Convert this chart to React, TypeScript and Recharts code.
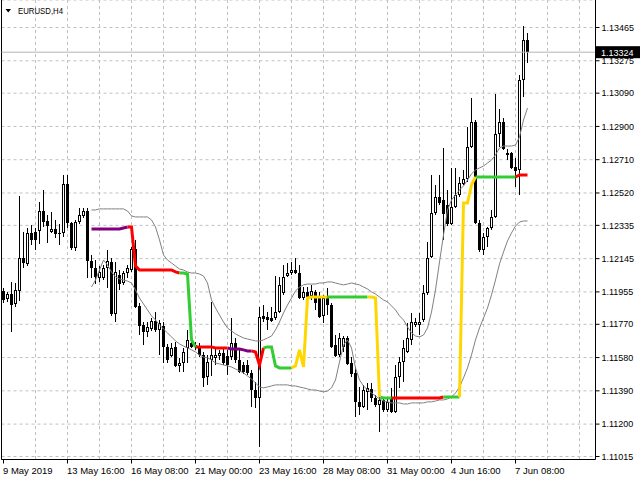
import React from "react";
import { ComposedChart, Bar, Line, XAxis, YAxis, CartesianGrid, ReferenceLine } from "recharts";

// EURUSD H4 candles, 9 May 2019 00:00 onwards
const opens = [
  1.1196, 1.11915, 1.11943, 1.11886, 1.1196, 1.12149, 1.12115, 1.12292, 1.12297, 1.12303,
  1.12417, 1.1236, 1.12297, 1.12314, 1.12292, 1.12292, 1.12571, 1.12349, 1.12206, 1.12354,
  1.12389, 1.12417, 1.12132, 1.12092, 1.12035, 1.12035, 1.12092, 1.12126, 1.11829, 1.12052,
  1.12006, 1.12063, 1.1208, 1.122, 1.11875, 1.11766, 1.11726, 1.11743, 1.11789, 1.11738,
  1.1176, 1.11641, 1.11589, 1.11641, 1.11532, 1.11549, 1.11635, 1.11664, 1.11641, 1.11641,
  1.11595, 1.11469, 1.11566, 1.11578, 1.11589, 1.11606, 1.11589, 1.11583, 1.11664, 1.11566,
  1.11538, 1.11538, 1.11492, 1.11395, 1.11349, 1.11818, 1.11812, 1.11806, 1.11806, 1.1184,
  1.11949, 1.12046, 1.12063, 1.1208, 1.12063, 1.1192, 1.11955, 1.11932, 1.11955, 1.11926,
  1.11818, 1.11926, 1.1188, 1.11652, 1.11595, 1.11641, 1.11692, 1.11549, 1.11492, 1.11327,
  1.11298, 1.11384, 1.11401, 1.11349, 1.11309, 1.11338, 1.11281, 1.11349, 1.1127, 1.11469,
  1.11555, 1.11612, 1.11681, 1.11766, 1.11766, 1.11795, 1.11949, 1.12155, 1.12406, 1.12497,
  1.1248, 1.12451, 1.12343, 1.1244, 1.12509, 1.12571, 1.126, 1.12783, 1.12925, 1.12349,
  1.12194, 1.12269, 1.1232, 1.12383, 1.12857, 1.12925, 1.12748, 1.12748, 1.12668, 1.12651,
  1.13165, 1.13394,
];
const highs = [
  1.11978, 1.11955, 1.12012, 1.12006, 1.12503, 1.12297, 1.1232, 1.12337, 1.1232, 1.12469,
  1.12537, 1.12394, 1.12411, 1.12366, 1.12343, 1.12623, 1.12623, 1.12354, 1.12366, 1.12434,
  1.12434, 1.12434, 1.12166, 1.12137, 1.12103, 1.12109, 1.12194, 1.12149, 1.12126, 1.1208,
  1.12075, 1.12109, 1.12212, 1.12252, 1.11892, 1.11783, 1.11783, 1.11806, 1.1184, 1.11795,
  1.11783, 1.11658, 1.11664, 1.11669, 1.11578, 1.11635, 1.11738, 1.11726, 1.11669, 1.11664,
  1.11612, 1.11595, 1.11898, 1.11641, 1.11624, 1.11635, 1.11624, 1.11806, 1.11692, 1.11624,
  1.11555, 1.11566, 1.11509, 1.11441, 1.11869, 1.1188, 1.1184, 1.11869, 1.12046, 1.1204,
  1.12109, 1.1212, 1.12126, 1.12149, 1.12109, 1.11983, 1.11983, 1.11995, 1.11966, 1.11955,
  1.11938, 1.11978, 1.11892, 1.11709, 1.11721, 1.11703, 1.11703, 1.11583, 1.11526, 1.11412,
  1.11424, 1.11435, 1.11435, 1.11366, 1.11355, 1.11355, 1.11355, 1.11407, 1.11538, 1.11583,
  1.11681, 1.11778, 1.11835, 1.11806, 1.11835, 1.11995, 1.1224, 1.12623, 1.12566, 1.12623,
  1.12777, 1.12537, 1.12663, 1.12663, 1.12611, 1.12651, 1.12897, 1.13062, 1.12937, 1.12366,
  1.12292, 1.12326, 1.12423, 1.13085, 1.12999, 1.12948, 1.12771, 1.12754, 1.1272, 1.13194,
  1.13474, 1.13434,
];
const lows = [
  1.11892, 1.11898, 1.11726, 1.11869, 1.11903, 1.12092, 1.12103, 1.12223, 1.12194, 1.12229,
  1.12326, 1.12234, 1.12292, 1.12263, 1.12223, 1.12269, 1.1232, 1.12194, 1.12189, 1.12343,
  1.12377, 1.12035, 1.12035, 1.12, 1.12012, 1.12023, 1.11978, 1.11818, 1.11783, 1.11966,
  1.11995, 1.12035, 1.12069, 1.11863, 1.11709, 1.11652, 1.11698, 1.11732, 1.11726, 1.11595,
  1.11549, 1.11549, 1.11583, 1.11526, 1.11498, 1.11498, 1.11549, 1.11635, 1.11624, 1.11583,
  1.11412, 1.11424, 1.11475, 1.11538, 1.11566, 1.11538, 1.11481, 1.11566, 1.11549, 1.11492,
  1.11486, 1.11481, 1.11298, 1.11292, 1.1107, 1.11783, 1.11738, 1.11783, 1.11795, 1.11835,
  1.11938, 1.1204, 1.12052, 1.12057, 1.11915, 1.11909, 1.11915, 1.11909, 1.11852, 1.11806,
  1.11778, 1.11823, 1.11635, 1.11583, 1.11583, 1.11612, 1.11538, 1.11469, 1.11241, 1.11252,
  1.11292, 1.11281, 1.11327, 1.11298, 1.11155, 1.1127, 1.1127, 1.11264, 1.11264, 1.11407,
  1.11441, 1.11606, 1.11652, 1.11755, 1.11709, 1.11783, 1.11938, 1.12149, 1.12394, 1.12451,
  1.12252, 1.12331, 1.12337, 1.12434, 1.12497, 1.12566, 1.12583, 1.12777, 1.12343, 1.12183,
  1.12166, 1.12212, 1.12309, 1.12377, 1.12783, 1.12765, 1.12708, 1.12657, 1.12554, 1.12509,
  1.13068, 1.13262,
];
const closes = [
  1.11909, 1.11943, 1.1188, 1.11966, 1.12149, 1.1212, 1.12292, 1.12252, 1.12252, 1.12417,
  1.12354, 1.12331, 1.12314, 1.12286, 1.12286, 1.12571, 1.12349, 1.12206, 1.12354, 1.12394,
  1.12417, 1.12132, 1.12092, 1.1204, 1.12069, 1.12092, 1.12132, 1.11829, 1.12069, 1.12,
  1.12063, 1.12092, 1.122, 1.11869, 1.1176, 1.11726, 1.11755, 1.11789, 1.11738, 1.11778,
  1.11641, 1.11566, 1.11635, 1.11532, 1.11549, 1.11612, 1.11681, 1.11641, 1.11652, 1.11595,
  1.11464, 1.11555, 1.11595, 1.11595, 1.11606, 1.11549, 1.11538, 1.11664, 1.11566, 1.11498,
  1.11498, 1.11492, 1.11395, 1.11349, 1.11812, 1.118, 1.11795, 1.11789, 1.1184, 1.11995,
  1.1204, 1.12063, 1.1208, 1.12063, 1.1192, 1.11955, 1.11926, 1.1196, 1.11892, 1.11812,
  1.1192, 1.1188, 1.11641, 1.11589, 1.11692, 1.11692, 1.11544, 1.11486, 1.11327, 1.11298,
  1.11395, 1.11407, 1.11349, 1.11309, 1.11338, 1.11281, 1.11327, 1.1127, 1.11469, 1.11555,
  1.11635, 1.11692, 1.11783, 1.11783, 1.11783, 1.11949, 1.12149, 1.12406, 1.12497, 1.12463,
  1.124, 1.12343, 1.1244, 1.12509, 1.12577, 1.126, 1.12783, 1.12925, 1.12349, 1.12194,
  1.12269, 1.1232, 1.12383, 1.12857, 1.12925, 1.12771, 1.12737, 1.12663, 1.12646, 1.13165,
  1.13394, 1.13324,
];

// bands and the coloured level line begin at bar 22
const bandStart = 22;
const upperBand = [
  1.12423, 1.12423, 1.12429, 1.12429, 1.12429, 1.12429, 1.12429, 1.12429, 1.12429, 1.12417,
  1.12389, 1.12383, 1.12383, 1.12383, 1.12383, 1.12366, 1.12326, 1.12252, 1.12166, 1.12137,
  1.1212, 1.12103, 1.12086, 1.1208, 1.12069, 1.12063, 1.12063, 1.12057, 1.12046, 1.12006,
  1.11909, 1.11863, 1.11823, 1.11783, 1.11749, 1.11732, 1.11715, 1.11703, 1.11692, 1.11686,
  1.11681, 1.11675, 1.11675, 1.11681, 1.11692, 1.11703, 1.11738, 1.11783, 1.11835, 1.1188,
  1.1192, 1.1196, 1.11983, 1.11995, 1.12, 1.12, 1.12, 1.12006, 1.12006, 1.12012,
  1.12012, 1.12006, 1.12, 1.11995, 1.12, 1.12006, 1.12, 1.11995, 1.11983, 1.11972,
  1.11955, 1.11943, 1.11926, 1.11909, 1.11898, 1.11875, 1.11852, 1.11818, 1.11795, 1.11755,
  1.11721, 1.11703, 1.11698, 1.11709, 1.11749, 1.1184, 1.11966, 1.12126, 1.1228, 1.12423,
  1.1248, 1.12509, 1.12537, 1.1256, 1.12594, 1.12629, 1.12651, 1.12663, 1.12674, 1.12691,
  1.12708, 1.12737, 1.12777, 1.12788, 1.12788, 1.12788, 1.12794, 1.1284, 1.12937, 1.13005,
];
const lowerBand = [
  1.11983, 1.12023, 1.1208, 1.12137, 1.12109, 1.12069, 1.1204, 1.12029, 1.12023, 1.12017,
  1.12006, 1.11966, 1.1192, 1.11886, 1.11852, 1.11818, 1.11795, 1.11766, 1.11743, 1.11721,
  1.11698, 1.11675, 1.11658, 1.11646, 1.11635, 1.11624, 1.11612, 1.11595, 1.11583, 1.11578,
  1.11566, 1.11549, 1.11544, 1.11538, 1.11532, 1.11526, 1.11515, 1.11504, 1.11492, 1.11475,
  1.11458, 1.11435, 1.11412, 1.11407, 1.11412, 1.11418, 1.11424, 1.11424, 1.11424, 1.11424,
  1.11418, 1.11418, 1.11412, 1.11407, 1.11401, 1.11395, 1.11395, 1.11389, 1.11384, 1.11389,
  1.11407, 1.11452, 1.11555, 1.11652, 1.11681, 1.11635, 1.11521, 1.11452, 1.11418, 1.11395,
  1.11378, 1.11361, 1.11344, 1.11332, 1.11327, 1.11321, 1.11321, 1.11321, 1.11315, 1.11315,
  1.11321, 1.11321, 1.11321, 1.11321, 1.11327, 1.11327, 1.11332, 1.11338, 1.11338, 1.11344,
  1.11355, 1.11378, 1.11412, 1.11464, 1.11521, 1.11595, 1.11681, 1.11749, 1.11806, 1.11863,
  1.11938, 1.12023, 1.12115, 1.12183, 1.12246, 1.12292, 1.12331, 1.12354, 1.1236, 1.1236,
];
const trendLevel = [
  1.12314, 1.12314, 1.12314, 1.12314, 1.12314, 1.12314, 1.12314, 1.12314, 1.1232, 1.12326,
  1.12326, 1.12103, 1.1208, 1.1208, 1.1208, 1.1208, 1.1208, 1.1208, 1.1208, 1.1208,
  1.1208, 1.12069, 1.12063, 1.12063, 1.12057, 1.11681, 1.11641, 1.11641, 1.11641, 1.11641,
  1.11641, 1.11635, 1.11635, 1.11635, 1.11635, 1.11629, 1.11629, 1.11629, 1.11624, 1.11618,
  1.11618, 1.11612, 1.11538, 1.11635, 1.11641, 1.11641, 1.11532, 1.11521, 1.11521, 1.11521,
  1.11521, 1.11532, 1.11624, 1.11526, 1.1192, 1.11926, 1.11926, 1.11926, 1.11926, 1.11926,
  1.11926, 1.11926, 1.11926, 1.11926, 1.11926, 1.11926, 1.11926, 1.11926, 1.11926, 1.11926,
  1.11926, 1.1192, 1.11355, 1.11349, 1.11349, 1.11349, 1.11349, 1.11349, 1.11349, 1.11349,
  1.11349, 1.11349, 1.11349, 1.11349, 1.11349, 1.11349, 1.11349, 1.11349, 1.11355, 1.11355,
  1.11355, 1.11355, 1.11355, 1.12463, 1.12463, 1.12566, 1.12611, 1.12611, 1.12611, 1.12611,
  1.12611, 1.12611, 1.12611, 1.12611, 1.12611, 1.12611, 1.12611, 1.12623, 1.12623, 1.12623,
];
// colour of each segment of the level line, as runs of bars
const trendRuns: [string, number][] = [
  ["purple", 10], ["red", 13], ["green", 4], ["red", 8], ["purple", 6], ["red", 3],
  ["green", 7], ["gold", 9], ["green", 10], ["gold", 3], ["green", 3], ["red", 13],
  ["green", 4], ["gold", 4], ["green", 10], ["red", 3],
];

const tickBars = [0, 16, 32, 48, 64, 80, 96, 112, 128];
const tickLabels = [
  "9 May 2019", "13 May 16:00", "16 May 08:00", "21 May 00:00", "23 May 16:00",
  "28 May 08:00", "31 May 00:00", "4 Jun 16:00", "7 Jun 08:00",
];
const gridBars = [8, 16, 24, 32, 40, 48, 56, 64, 72, 80, 88, 96, 104, 112, 120, 128, 136, 144];
const priceTicks = [
  1.11015, 1.112, 1.1139, 1.1158, 1.1177, 1.11955, 1.12145, 1.12335, 1.1252, 1.1271,
  1.129, 1.1309, 1.13275, 1.13465,
];

const lineColors: Record<string, string> = {
  purple: "#800080",
  red: "#ff0000",
  green: "#32cd32",
  gold: "#ffd700",
};

const segColor = trendRuns.flatMap(([c, n]) => Array(n).fill(c));

const rows = opens.map((open, i) => {
  const k = i - bandStart;
  const row: any = {
    i,
    open,
    high: highs[i],
    low: lows[i],
    close: closes[i],
    range: [lows[i], highs[i]],
    upper: k >= 0 ? upperBand[k] : null,
    lower: k >= 0 ? lowerBand[k] : null,
  };
  Object.keys(lineColors).forEach((c) => {
    row[c] = k >= 0 && (segColor[k] === c || segColor[k + 1] === c) ? trendLevel[k] : null;
  });
  return row;
});

const lastClose = closes[closes.length - 1];
const font = "'Liberation Sans', Arial, sans-serif";

const Candle = (props: any) => {
  const { x, y, width, height, payload } = props;
  if (x == null || y == null || !payload) return null;
  const { open, close, high, low } = payload;
  const top = Math.min(y, y + height);
  const h = Math.abs(height);
  const cx = Math.floor(x + width / 2) + 0.5;
  const py = (v: number) => top + ((high - v) / (high - low || 1)) * h;
  const bTop = Math.round(py(Math.max(open, close)));
  const bBot = Math.round(py(Math.min(open, close)));
  const up = close >= open;
  return (
    <g>
      <line x1={cx} x2={cx} y1={Math.round(top)} y2={Math.round(top + h)} stroke="#000" />
      {up && bBot - bTop >= 2 ? (
        <rect x={cx - 1} y={bTop + 0.5} width={2} height={bBot - bTop - 1} fill="#fff" stroke="#000" />
      ) : (
        <rect x={cx - 1.5} y={bTop} width={3} height={Math.max(bBot - bTop, 1)} fill="#000" />
      )}
    </g>
  );
};

const TimeTick = (props: any) => {
  const { x, y, payload } = props;
  const k = tickBars.indexOf(payload.value);
  if (k < 0) return null;
  return (
    <g>
      <line x1={x} x2={x} y1={y} y2={y + 4} stroke="#000" />
      <text x={x - 0.5} y={y + 14} fontSize={9.5} fontFamily={font} fill="#000" textAnchor="start">
        {tickLabels[k]}
      </text>
    </g>
  );
};

const PriceTag = (props: any) => {
  const vb = props.viewBox || {};
  const x = vb.x + vb.width;
  const y = vb.y;
  return (
    <g>
      <rect x={x} y={y - 6} width={45} height={12} fill="#000" />
      <text x={x + 5.5} y={y + 3.5} fontSize={9} fontFamily={font} fill="#fff">
        {lastClose.toFixed(5)}
      </text>
    </g>
  );
};

export default function App() {
  return (
    <div style={{ position: "absolute", left: 0, top: 0, width: 640, height: 480, background: "#fff", overflow: "hidden" }}>
      <ComposedChart width={640} height={480} data={rows} margin={{ top: 0, right: 0, bottom: 0, left: 1.5 }}>
        <CartesianGrid strokeDasharray="3 3" stroke="#c0c0c0" verticalValues={gridBars} />
        <XAxis
          type="number"
          dataKey="i"
          domain={[-0.5, 148]}
          allowDataOverflow
          ticks={tickBars}
          interval={0}
          tick={<TimeTick />}
          tickLine={false}
          tickSize={0}
          tickMargin={0}
          axisLine={{ stroke: "#000" }}
          height={20.5}
        />
        <YAxis
          orientation="right"
          type="number"
          domain={[1.1099787, 1.1362205]}
          allowDataOverflow
          ticks={priceTicks}
          interval={0}
          width={44.5}
          tickSize={4}
          tickMargin={2}
          axisLine={{ stroke: "#000" }}
          tickLine={{ stroke: "#000" }}
          tick={{ fontSize: 9, fill: "#000", fontFamily: font }}
          tickFormatter={(v: number) => v.toFixed(5)}
        />
        <ReferenceLine x={-0.5} stroke="#000" />
        <ReferenceLine y={lastClose} stroke="#b4b4b4" label={(p: any) => <PriceTag {...p} />} />
        <Bar dataKey="range" barSize={3} shape={(p: any) => <Candle {...p} />} isAnimationActive={false} />
        <Line dataKey="upper" stroke="#808080" strokeWidth={1} dot={false} activeDot={false} isAnimationActive={false} />
        <Line dataKey="lower" stroke="#808080" strokeWidth={1} dot={false} activeDot={false} isAnimationActive={false} />
        {Object.keys(lineColors).map((c) => (
          <Line
            key={c}
            dataKey={c}
            stroke={lineColors[c]}
            strokeWidth={3}
            dot={false}
            activeDot={false}
            connectNulls={false}
            isAnimationActive={false}
          />
        ))}
      </ComposedChart>
      <svg width={80} height={20} style={{ position: "absolute", left: 0, top: 0 }}>
        <polygon points="5.5,9 11,9 8.25,12.5" fill="#000" />
        <text x={18} y={14} fontSize={9.5} fontFamily={font} fill="#000" textLength={45} lengthAdjust="spacingAndGlyphs">
          EURUSD,H4
        </text>
      </svg>
    </div>
  );
}
